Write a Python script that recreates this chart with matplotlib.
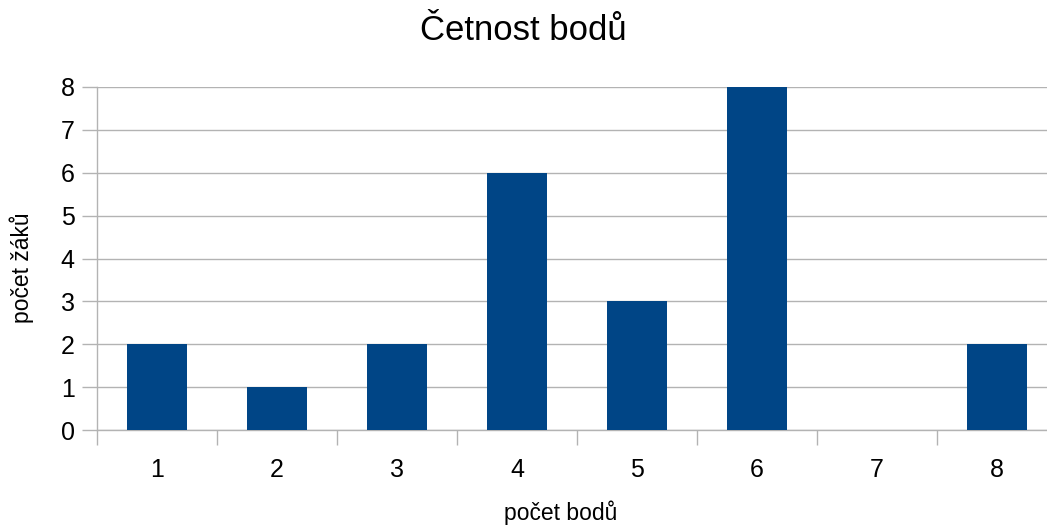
import matplotlib
matplotlib.use("Agg")
import matplotlib.pyplot as plt

categories = ["1", "2", "3", "4", "5", "6", "7", "8"]
values = [2, 1, 2, 6, 3, 8, 0, 2]
yticks = [0, 1, 2, 3, 4, 5, 6, 7, 8]

plt.rcParams['font.family'] = ['Liberation Sans', 'DejaVu Sans']

W, H = 1047, 525
fig = plt.figure(figsize=(W / 100, H / 100), dpi=100)
left = 97 / W
bottom = (H - 430) / H
top = (H - 87) / H
width = (1057 - 97) / W
ax = fig.add_axes([left, bottom, width, top - bottom])
fig.patch.set_facecolor("white")

x = list(range(1, len(categories) + 1))
ax.bar(x, values, width=0.5, color="#004586", zorder=3)
ax.set_xlim(0.5, len(categories) + 0.5)
ax.set_ylim(0, 8)
ax.set_yticks(yticks)
ax.set_yticklabels([str(v) for v in yticks], fontsize=18)
ax.set_xticks(x)
ax.set_xticklabels(categories, fontsize=18)
ax.set_xticks([i + 0.5 for i in range(0, len(categories) + 1)], minor=True)
ax.tick_params(axis="x", which="major", length=0, pad=20)
ax.tick_params(axis="x", which="minor", length=11, color="#b3b3b3", width=1)
ax.tick_params(axis="y", length=11, color="#b3b3b3", width=1, pad=5)
ax.yaxis.grid(True, color="#b3b3b3", linewidth=1, zorder=0)
for s in ["top", "right"]:
    ax.spines[s].set_visible(False)
for s in ["left", "bottom"]:
    ax.spines[s].set_color("#b3b3b3")
    ax.spines[s].set_linewidth(1)

fig.text(523 / W, 1 - 31 / H, "Četnost bodů", fontsize=25, ha="center", va="center")
fig.text(561 / W, 1 - 513 / H, "počet bodů", fontsize=16.5, ha="center", va="center")
fig.text(22 / W, 1 - 268 / H, "počet žáků", fontsize=16.5, ha="center", va="center", rotation=90)

fig.savefig("out.png", dpi=100)
